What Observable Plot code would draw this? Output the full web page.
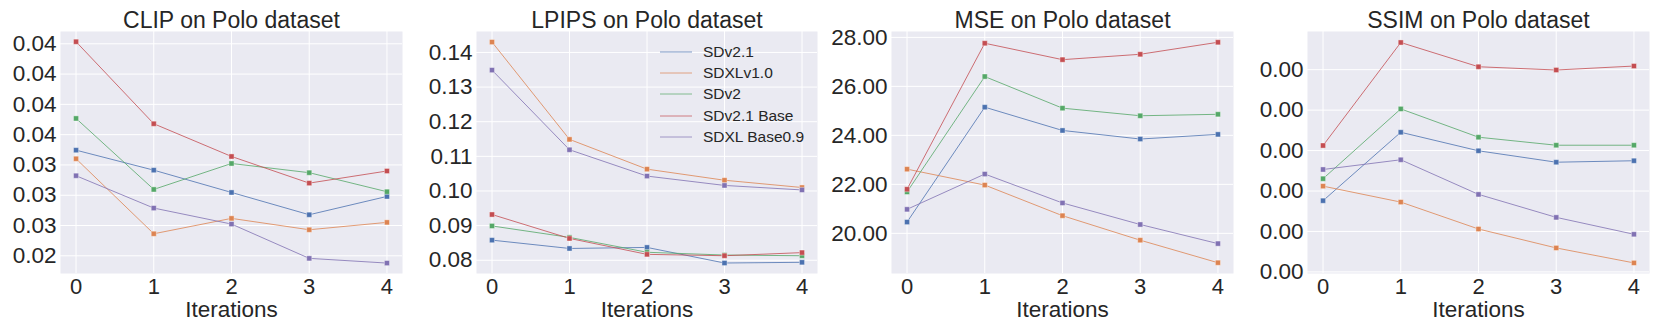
<!DOCTYPE html>
<html>
<head>
<meta charset="utf-8">
<script src="https://cdn.jsdelivr.net/npm/d3@7"></script>
<script src="https://cdn.jsdelivr.net/npm/@observablehq/plot@0.6"></script>
<style>
  html, body { margin: 0; padding: 0; background: #ffffff; }
  #root { position: relative; width: 1661px; height: 332px; overflow: hidden; font-family: "Liberation Sans", Arial, sans-serif; color: #262626; }
  .panel { position: absolute; top: 0; }
  #legend { position: absolute; left: 660px; top: 41px; font-size: 15.5px; }
  .lrow { height: 21.4px; display: flex; align-items: center; }
  .lrow svg { margin-right: 11px; }
</style>
</head>
<body>
<div id="root"></div>
<script>
const iterations = [0, 1, 2, 3, 4];
const seriesNames = ["SDv2.1", "SDXLv1.0", "SDv2", "SDv2.1 Base", "SDXL Base0.9"];
const seriesColors = ["#4C72B0", "#DD8452", "#55A868", "#C44E52", "#8172B3"];

// CLIP
const clipSDv21 = [0.03372, 0.03207, 0.03023, 0.02839, 0.02990];
const clipSDXLv10 = [0.03301, 0.02682, 0.02809, 0.02715, 0.02776];
const clipSDv2 = [0.03634, 0.03048, 0.03262, 0.03186, 0.03029];
const clipSDv21Base = [0.04267, 0.03590, 0.03320, 0.03100, 0.03200];
const clipSDXLBase09 = [0.03161, 0.02894, 0.02762, 0.02479, 0.02440];
const clipTicks = [0.0250, 0.0275, 0.0300, 0.0325, 0.0350, 0.0375, 0.0400, 0.0425];
const clipTickLabels = ["0.02", "0.03", "0.03", "0.03", "0.04", "0.04", "0.04", "0.04"];

// LPIPS
const lpipsSDv21 = [0.0858, 0.0834, 0.0837, 0.0792, 0.0794];
const lpipsSDXLv10 = [0.1430, 0.1149, 0.1063, 0.1031, 0.1010];
const lpipsSDv2 = [0.0899, 0.0866, 0.0823, 0.0815, 0.0813];
const lpipsSDv21Base = [0.0932, 0.0863, 0.0817, 0.0813, 0.0822];
const lpipsSDXLBase09 = [0.1349, 0.1119, 0.1043, 0.1016, 0.1003];
const lpipsTicks = [0.08, 0.09, 0.10, 0.11, 0.12, 0.13, 0.14];
const lpipsTickLabels = ["0.08", "0.09", "0.10", "0.11", "0.12", "0.13", "0.14"];

// MSE
const mseSDv21 = [20.46, 25.15, 24.20, 23.85, 24.04];
const mseSDXLv10 = [22.62, 21.97, 20.72, 19.72, 18.80];
const mseSDv2 = [21.69, 26.40, 25.11, 24.80, 24.86];
const mseSDv21Base = [21.80, 27.76, 27.09, 27.31, 27.80];
const mseSDXLBase09 = [20.98, 22.42, 21.24, 20.36, 19.58];
const mseTicks = [20, 22, 24, 26, 28];
const mseTickLabels = ["20.00", "22.00", "24.00", "26.00", "28.00"];

// SSIM
const ssimSDv21 = [0.000880, 0.001726, 0.001497, 0.001356, 0.001374];
const ssimSDXLv10 = [0.001060, 0.000863, 0.000530, 0.000296, 0.000111];
const ssimSDv2 = [0.001152, 0.002015, 0.001665, 0.001566, 0.001566];
const ssimSDv21Base = [0.001562, 0.002836, 0.002536, 0.002496, 0.002545];
const ssimSDXLBase09 = [0.001266, 0.001386, 0.000958, 0.000674, 0.000465];
const ssimTicks = [0, 0.0005, 0.0010, 0.0015, 0.0020, 0.0025];
const ssimTickLabels = ["0.00", "0.00", "0.00", "0.00", "0.00", "0.00"];

const panels = [
  { title: "CLIP on Polo dataset", left: 0, width: 415, mr: 13, yDomain: [0.02354, 0.043515],
    values: [clipSDv21, clipSDXLv10, clipSDv2, clipSDv21Base, clipSDXLBase09], ticks: clipTicks, labels: clipTickLabels },
  { title: "LPIPS on Polo dataset", left: 416, width: 416, mr: 15, yDomain: [0.07617, 0.14605],
    values: [lpipsSDv21, lpipsSDXLv10, lpipsSDv2, lpipsSDv21Base, lpipsSDXLBase09], ticks: lpipsTicks, labels: lpipsTickLabels },
  { title: "MSE on Polo dataset", left: 831, width: 415, mr: 13, yDomain: [18.36, 28.24],
    values: [mseSDv21, mseSDXLv10, mseSDv2, mseSDv21Base, mseSDXLBase09], ticks: mseTicks, labels: mseTickLabels },
  { title: "SSIM on Polo dataset", left: 1247, width: 414, mr: 12, yDomain: [-0.00002, 0.002972],
    values: [ssimSDv21, ssimSDXLv10, ssimSDv2, ssimSDv21Base, ssimSDXLBase09], ticks: ssimTicks, labels: ssimTickLabels }
];

const root = document.getElementById("root");

for (const cfg of panels) {
  const rows = [];
  seriesNames.forEach((s, i) => cfg.values[i].forEach((v, j) => rows.push({ series: s, iter: iterations[j], value: v })));
  const labelMap = new Map(cfg.ticks.map((t, i) => [t, cfg.labels[i]]));
  const chart = Plot.plot({
    width: cfg.width,
    height: 332,
    marginLeft: 60,
    marginRight: cfg.mr,
    marginTop: 31,
    marginBottom: 59,
    style: { fontFamily: "'Liberation Sans', Arial, sans-serif", color: "#262626", background: "transparent", overflow: "visible" },
    x: { domain: [-0.2, 4.2] },
    y: { domain: cfg.yDomain },
    color: { domain: seriesNames, range: seriesColors },
    marks: [
      Plot.frame({ fill: "#EAEAF2", stroke: null }),
      Plot.gridX(iterations, { stroke: "white", strokeOpacity: 1, strokeWidth: 1 }),
      Plot.gridY(cfg.ticks, { stroke: "white", strokeOpacity: 1, strokeWidth: 1 }),
      Plot.axisX(iterations, { tickSize: 0, tickPadding: 5, fontSize: 22, label: null, tickFormat: d => String(d) }),
      Plot.axisY(cfg.ticks, { tickSize: 0, tickPadding: 4, fontSize: 22.5, label: null, tickFormat: d => labelMap.get(d) }),
      Plot.line(rows, { x: "iter", y: "value", z: "series", stroke: "series", strokeWidth: 1, strokeOpacity: 0.8 }),
      Plot.dot(rows, { x: "iter", y: "value", fill: "series", symbol: "square", r: 2.9, stroke: "white", strokeWidth: 0.4 }),
      Plot.text([cfg.title], { text: d => d, frameAnchor: "top", dy: -11, fontSize: 23, lineAnchor: "middle" }),
      Plot.text(["Iterations"], { text: d => d, frameAnchor: "bottom", dy: 36, fontSize: 22.5, lineAnchor: "middle" })
    ]
  });
  const wrap = document.createElement("div");
  wrap.className = "panel";
  wrap.style.left = cfg.left + "px";
  wrap.appendChild(chart);
  root.appendChild(wrap);
}

// Legend (inside the LPIPS panel)
const legend = document.createElement("div");
legend.id = "legend";
seriesNames.forEach((s, i) => {
  const row = document.createElement("div");
  row.className = "lrow";
  row.innerHTML = `<svg width="32" height="4"><line x1="0" y1="2" x2="32" y2="2" stroke="${seriesColors[i]}" stroke-width="1" stroke-opacity="0.7"/></svg><span>${s}</span>`;
  legend.appendChild(row);
});
root.appendChild(legend);
</script>
</body>
</html>
